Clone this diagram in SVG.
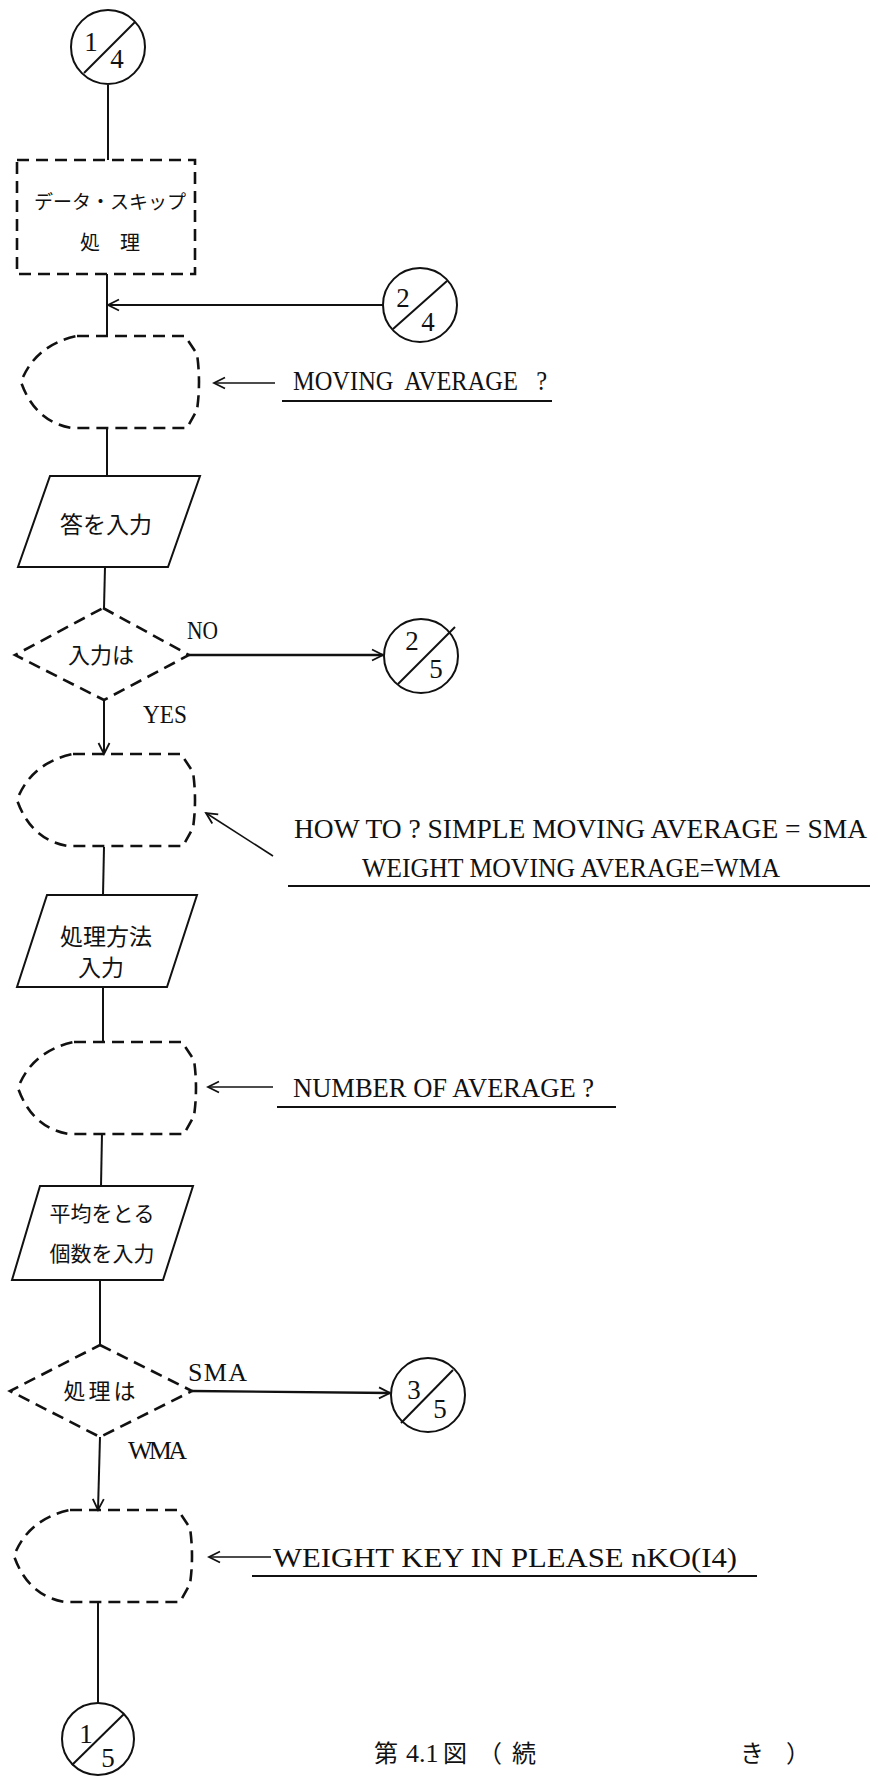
<svg xmlns="http://www.w3.org/2000/svg" width="878" height="1777" viewBox="0 0 878 1777">
<style>
.bg{fill:#fff}
.ln{fill:none;stroke:#111;stroke-width:2}
.dash{fill:none;stroke:#111;stroke-width:2.6;stroke-dasharray:12 7}
.cir{fill:#fff;stroke:#111;stroke-width:2}
.jp{font-family:"Noto Sans CJK JP","Noto Sans CJK SC",sans-serif;fill:#111}
.en{font-family:"Liberation Serif","Noto Sans CJK JP",serif;fill:#111}
.num{font-family:"Liberation Serif",serif;font-size:27px;fill:#111;text-anchor:middle}
.mid{text-anchor:middle}
</style>
<defs>
<marker id="arr" viewBox="-13 -7 15 14" refX="0" refY="0" markerWidth="15" markerHeight="14" markerUnits="userSpaceOnUse" orient="auto">
<path d="M-11,-5.5 L0,0 L-11,5.5" fill="none" stroke="#111" stroke-width="1.8"/>
</marker>
<path id="disp" d="M56,0 L164,0 L176,18 Q180,46 176,74 L166,92 L51,92 Q14,86 0,46 Q14,9 56,0 Z"/>
</defs>
<rect class="bg" x="0" y="0" width="878" height="1777"/>

<g id="connectors">
<line class="ln" x1="108" y1="85" x2="108" y2="160"/>
<line class="ln" x1="107" y1="274" x2="107" y2="336"/>
<line class="ln" x1="383" y1="305" x2="108" y2="305" marker-end="url(#arr)"/>
<line class="ln" x1="107" y1="428" x2="107" y2="476"/>
<line class="ln" x1="105" y1="567" x2="104" y2="608"/>
<line class="ln" x1="189" y1="655" x2="383" y2="655" marker-end="url(#arr)" style="stroke-width:2.6"/>
<line class="ln" x1="104" y1="700" x2="104" y2="754" marker-end="url(#arr)"/>
<line class="ln" x1="104" y1="847" x2="103" y2="895"/>
<line class="ln" x1="103" y1="987" x2="103" y2="1042"/>
<line class="ln" x1="102" y1="1133" x2="101" y2="1186"/>
<line class="ln" x1="100" y1="1280" x2="100" y2="1345"/>
<line class="ln" x1="192" y1="1391" x2="390" y2="1393" marker-end="url(#arr)" style="stroke-width:2.4"/>
<line class="ln" x1="100" y1="1437" x2="98" y2="1510" marker-end="url(#arr)"/>
<line class="ln" x1="98" y1="1603" x2="98" y2="1703"/>
<line class="ln" x1="275" y1="383" x2="214" y2="383" marker-end="url(#arr)" style="stroke-width:1.6"/>
<line class="ln" x1="273" y1="856" x2="206" y2="813" marker-end="url(#arr)" style="stroke-width:1.6"/>
<line class="ln" x1="273" y1="1087" x2="208" y2="1087" marker-end="url(#arr)" style="stroke-width:1.6"/>
<line class="ln" x1="271" y1="1557" x2="209" y2="1557" marker-end="url(#arr)" style="stroke-width:1.6"/>
</g>

<g id="c14">
<circle class="cir" cx="108" cy="47" r="37"/>
<line class="ln" x1="84" y1="73" x2="135" y2="22"/>
<text class="num" x="91" y="51">1</text>
<text class="num" x="117" y="68">4</text>
</g>

<g id="skip">
<rect class="dash" x="17" y="160" width="178" height="114"/>
<text class="jp mid" x="110" y="209" font-size="19">データ・スキップ</text>
<text class="jp" x="80" y="250" font-size="20" letter-spacing="20">処理</text>
</g>

<g id="c24">
<circle class="cir" cx="420" cy="305" r="37"/>
<line class="ln" x1="393" y1="329" x2="447" y2="281"/>
<text class="num" x="403" y="307">2</text>
<text class="num" x="428" y="331">4</text>
</g>

<g id="disp1">
<use href="#disp" class="dash" transform="translate(21,336)"/>
<text class="en" x="293" y="390" font-size="28" textLength="254" lengthAdjust="spacingAndGlyphs" xml:space="preserve">MOVING  AVERAGE   ?</text>
<line class="ln" x1="282" y1="401" x2="552" y2="401" style="stroke-width:1.8"/>
</g>

<g id="in1">
<polygon class="ln" points="50,476 200,476 168,567 18,567"/>
<text class="jp mid" x="106" y="533" font-size="23">答を入力</text>
</g>

<g id="dec1">
<polygon class="dash" points="103,608 189,655 104,700 15,655"/>
<text class="jp mid" x="101" y="663" font-size="22">入力は</text>
<text class="en" x="187" y="639" font-size="26" textLength="31" lengthAdjust="spacingAndGlyphs">NO</text>
<text class="en" x="143" y="723" font-size="26" textLength="44" lengthAdjust="spacingAndGlyphs">YES</text>
</g>

<g id="c25">
<circle class="cir" cx="421" cy="656" r="37"/>
<line class="ln" x1="398" y1="684" x2="455" y2="627"/>
<text class="num" x="412" y="650">2</text>
<text class="num" x="436" y="678">5</text>
</g>

<g id="disp2">
<use href="#disp" class="dash" transform="translate(17,754)"/>
<text class="en" x="294" y="838" font-size="28" textLength="573" lengthAdjust="spacingAndGlyphs" xml:space="preserve">HOW TO ? SIMPLE MOVING AVERAGE = SMA</text>
<text class="en" x="362" y="877" font-size="28" textLength="418" lengthAdjust="spacingAndGlyphs">WEIGHT MOVING AVERAGE=WMA</text>
<line class="ln" x1="288" y1="886" x2="870" y2="886" style="stroke-width:1.8"/>
</g>

<g id="in2">
<polygon class="ln" points="47,895 197,895 167,987 17,987"/>
<text class="jp mid" x="106" y="945" font-size="23">処理方法</text>
<text class="jp mid" x="101" y="976" font-size="23">入力</text>
</g>

<g id="disp3">
<use href="#disp" class="dash" transform="translate(18,1042)"/>
<text class="en" x="293" y="1097" font-size="28" textLength="301" lengthAdjust="spacingAndGlyphs" xml:space="preserve">NUMBER OF AVERAGE ?</text>
<line class="ln" x1="277" y1="1107" x2="616" y2="1107" style="stroke-width:1.8"/>
</g>

<g id="in3">
<polygon class="ln" points="40,1186 193,1186 163,1280 12,1280"/>
<text class="jp mid" x="102" y="1221" font-size="21">平均をとる</text>
<text class="jp mid" x="102" y="1261" font-size="21">個数を入力</text>
</g>

<g id="dec2">
<polygon class="dash" points="100,1345 192,1391 100,1437 10,1391"/>
<text class="jp mid" x="101" y="1399" font-size="22" letter-spacing="3">処理は</text>
<text class="en" x="188" y="1381" font-size="26" textLength="59" lengthAdjust="spacing">SMA</text>
<text class="en" x="128" y="1459" font-size="26" textLength="59" lengthAdjust="spacing">WMA</text>
</g>

<g id="c35">
<circle class="cir" cx="428" cy="1395" r="37"/>
<line class="ln" x1="401" y1="1423" x2="453" y2="1370"/>
<text class="num" x="414" y="1399">3</text>
<text class="num" x="440" y="1418">5</text>
</g>

<g id="disp4">
<use href="#disp" class="dash" transform="translate(14,1510)"/>
<text class="en" x="273" y="1567" font-size="28" textLength="464" lengthAdjust="spacingAndGlyphs" xml:space="preserve">WEIGHT KEY IN PLEASE nKO(I4)</text>
<line class="ln" x1="252" y1="1576" x2="757" y2="1576" style="stroke-width:1.8"/>
</g>

<g id="c15">
<circle class="cir" cx="98" cy="1739" r="36"/>
<line class="ln" x1="72" y1="1765" x2="124" y2="1714"/>
<text class="num" x="86" y="1743" font-size="28">1</text>
<text class="num" x="108" y="1767" font-size="28">5</text>
</g>

<g id="caption">
<text class="jp" y="1762" font-size="24"><tspan x="374">第</tspan><tspan class="en" x="406" font-size="26">4.1</tspan><tspan x="443">図</tspan><tspan x="478">（</tspan><tspan x="512">続</tspan><tspan x="740">き</tspan><tspan x="786">）</tspan></text>
</g>
</svg>
